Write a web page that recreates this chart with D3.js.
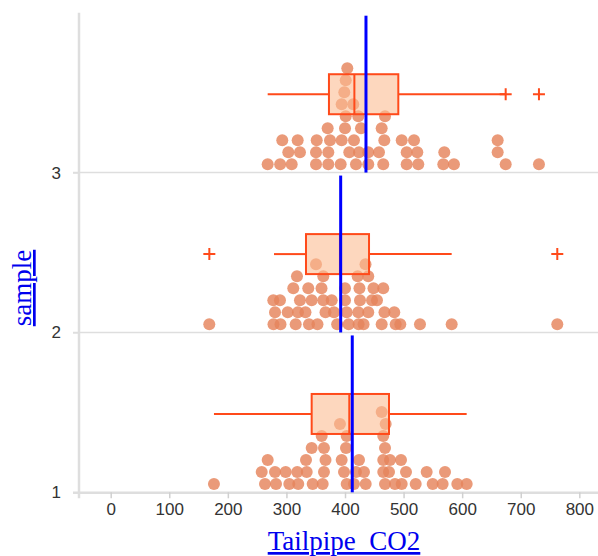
<!DOCTYPE html>
<html><head><meta charset="utf-8">
<script src="https://cdn.jsdelivr.net/npm/d3@7"></script>
<style>body{margin:0;background:#fff} svg{display:block}</style>
</head><body><svg id="chart" width="598" height="556"></svg>
<script>
const samples = [1, 2, 3];
const yTicks = [1, 2, 3];
const xTicks = [0, 100, 200, 300, 400, 500, 600, 700, 800];
const xLabel = "Tailpipe_CO2";
const yLabel = "sample";

const co2Sample1 = [176.3, 263.4, 282.2, 304.9, 320.2, 344.8, 361.9, 402.9, 415.3, 435.3, 468.3, 485.3, 496.8, 520.7, 549.7, 566.7, 591.7, 607.7,
  257.8, 280.5, 298.7, 318.5, 334.6, 364.1, 398.3, 418.7, 432.4, 465.3, 475.1, 504.1, 539.4, 570.7,
  268.0, 333.4, 366.7, 394.3, 423.9, 465.3, 476.8, 495.6,
  343.1, 364.1, 401.7, 468.3,
  360.2, 402.9, 465.3,
  391.4, 469.4,
  462.6];
const co2Sample2 = [168.3, 277.9, 289.9, 315.8, 338.5, 353.0, 386.6, 406.3, 423.2, 431.7, 462.6, 486.5, 494.4, 528.0, 582.1, 762.4,
  280.5, 302.2, 319.7, 332.5, 366.7, 381.2, 402.9, 422.7, 439.7, 467.4, 484.1,
  277.6, 289.0, 323.1, 343.1, 362.9, 377.3, 400.0, 425.6, 446.1, 454.6,
  311.7, 337.3, 359.9, 400.0, 424.7, 448.6, 465.3,
  318.0, 362.9, 421.6, 439.7,
  350.5, 435.0];
const co2Sample3 = [268.0, 289.3, 309.0, 350.5, 371.5, 392.6, 418.7, 439.7, 465.3, 505.3, 525.1, 567.8, 586.0, 674.3, 731.1,
  303.2, 323.1, 350.5, 371.5, 407.3, 423.9, 439.7, 458.0, 505.3, 523.4, 569.5, 660.6,
  292.9, 319.2, 351.7, 374.4, 394.3, 415.3, 467.1, 496.8, 517.8, 660.6,
  370.4, 400.0, 427.3, 462.6,
  401.2, 422.7, 468.3,
  394.3, 414.1,
  398.8,
  401.2,
  403.9];

const q1Values = [343.1, 333.4, 372.6];
const medianValues = [407.3, 391.4, 416.0];
const q3Values = [475.1, 441.0, 491.0];
const whiskerLow = [176.3, 278.8, 268.0];
const whiskerHigh = [607.7, 582.1, 674.0];
const outlierValues = [[], [168.4, 762.4], [674.3, 731.1]];
const meanValues = [412.4, 392.6, 435.8];

const seriesBySample = [co2Sample1, co2Sample2, co2Sample3];

const svg = d3.select("#chart");
const x = d3.scaleLinear().domain([-52.4, 831.9]).range([80, 598]);
const y = d3.scaleLinear().domain([1, 4]).range([492.3, 12.7]);

const gridColor = "#dedede";
const boxStroke = "#ff4a1a";
const dotFill = "#e5845b";

// grid lines at sample boundaries
svg.append("g").selectAll("line").data(yTicks.slice(1)).join("line")
  .attr("x1", 73).attr("x2", 598)
  .attr("y1", d => y(d)).attr("y2", d => y(d))
  .attr("stroke", gridColor).attr("stroke-width", 1.5);

// x axis
const xAxis = svg.append("g").attr("transform", `translate(0,${y(1)})`)
  .call(d3.axisBottom(x).tickValues(xTicks).tickSize(6).tickSizeOuter(0).tickPadding(5));
xAxis.select(".domain").attr("stroke", gridColor).attr("stroke-width", 2.5).attr("d", `M73,0.5H598`);
xAxis.selectAll(".tick line").attr("stroke", "#d0d0d0").attr("stroke-width", 1.5);
xAxis.selectAll(".tick text").attr("font-family", "'Liberation Sans', Arial, sans-serif")
  .attr("font-size", 17).attr("fill", "#333");

// y axis
const yAxis = svg.append("g").attr("transform", `translate(79,0)`)
  .call(d3.axisLeft(y).tickValues(yTicks).tickFormat(d3.format("d")).tickSize(6).tickSizeOuter(0).tickPadding(12));
yAxis.select(".domain").attr("stroke", gridColor).attr("stroke-width", 2.5)
  .attr("d", `M0,${y(4)}V${y(1) + 6}`);
yAxis.selectAll(".tick line").attr("stroke", gridColor).attr("stroke-width", 1.5);
yAxis.selectAll(".tick text").attr("font-family", "'Liberation Sans', Arial, sans-serif")
  .attr("font-size", 17).attr("fill", "#333");

// dots: binned stacking (bin width = dot diameter)
const binW = 12, rowGap = 12, r = 6;
const dots = [];
samples.forEach((s, i) => {
  const counts = new Map();
  seriesBySample[i].forEach(v => {
    const b = Math.floor((x(v) - x(0)) / binW);
    const k = counts.get(b) || 0;
    counts.set(b, k + 1);
    dots.push({ s, v, k });
  });
});
svg.append("g").selectAll("circle").data(dots).join("circle")
  .attr("cx", d => x(d.v))
  .attr("cy", d => y(d.s) - 8.3 - d.k * rowGap)
  .attr("r", r)
  .attr("fill", dotFill).attr("fill-opacity", 0.82);

// box plots
const boxG = svg.append("g");
samples.forEach((s, i) => {
  const cy = y(s + 0.49);
  const h = 20;
  boxG.append("line").attr("x1", x(whiskerLow[i])).attr("x2", x(q1Values[i]))
    .attr("y1", cy).attr("y2", cy).attr("stroke", boxStroke).attr("stroke-width", 2);
  boxG.append("line").attr("x1", x(q3Values[i])).attr("x2", x(whiskerHigh[i]))
    .attr("y1", cy).attr("y2", cy).attr("stroke", boxStroke).attr("stroke-width", 2);
  boxG.append("rect").attr("x", x(q1Values[i])).attr("y", cy - h)
    .attr("width", x(q3Values[i]) - x(q1Values[i])).attr("height", 2 * h)
    .attr("fill", "rgb(252,188,147)").attr("fill-opacity", 0.6)
    .attr("stroke", boxStroke).attr("stroke-width", 2);
  boxG.append("line").attr("x1", x(medianValues[i])).attr("x2", x(medianValues[i]))
    .attr("y1", cy - h).attr("y2", cy + h).attr("stroke", boxStroke).attr("stroke-width", 2);
  boxG.selectAll(null).data(outlierValues[i]).join("path")
    .attr("d", d => `M${x(d) - 6},${cy}H${x(d) + 6}M${x(d)},${cy - 6}V${cy + 6}`)
    .attr("stroke", boxStroke).attr("stroke-width", 2).attr("fill", "none");
});

// mean lines
svg.append("g").selectAll("line").data(samples).join("line")
  .attr("x1", (s, i) => x(meanValues[i])).attr("x2", (s, i) => x(meanValues[i]))
  .attr("y1", s => y(s + 1) + 3).attr("y2", s => y(s))
  .attr("stroke", "#0000ff").attr("stroke-width", 3);

// axis labels
svg.append("text").attr("x", 344).attr("y", 550).attr("text-anchor", "middle")
  .attr("font-family", "'Liberation Serif', 'Times New Roman', serif").attr("font-size", 27)
  .attr("fill", "#0000ee").attr("text-decoration", "underline").text(xLabel);
svg.append("text").attr("transform", "translate(31,288) rotate(-90)").attr("text-anchor", "middle")
  .attr("font-family", "'Liberation Serif', 'Times New Roman', serif").attr("font-size", 27)
  .attr("fill", "#0000ee").attr("text-decoration", "underline").text(yLabel);
</script></body></html>
